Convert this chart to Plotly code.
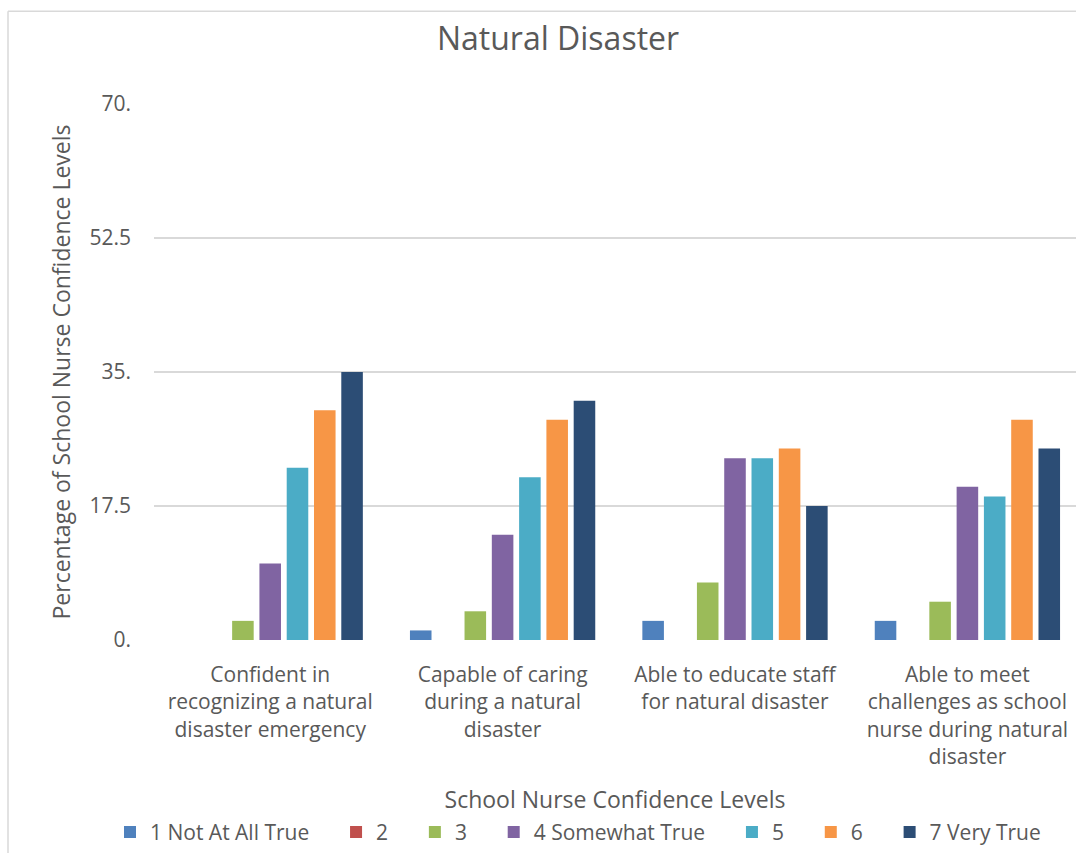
import plotly.graph_objects as go

# Survey items (x categories)
categories = [
    "Confident in<br>recognizing a natural<br>disaster emergency",
    "Capable of caring<br>during a natural<br>disaster",
    "Able to educate staff<br>for natural disaster",
    "Able to meet<br>challenges as school<br>nurse during natural<br>disaster",
]

# Percentage of respondents per confidence level
level_names = ["1 Not At All True", "2", "3", "4 Somewhat True", "5", "6", "7 Very True"]
level_1 = [0.0, 1.25, 2.5, 2.5]
level_2 = [0.0, 0.0, 0.0, 0.0]
level_3 = [2.5, 3.75, 7.5, 5.0]
level_4 = [10.0, 13.75, 23.75, 20.0]
level_5 = [22.5, 21.25, 23.75, 18.75]
level_6 = [30.0, 28.75, 25.0, 28.75]
level_7 = [35.0, 31.25, 17.5, 25.0]
level_values = [level_1, level_2, level_3, level_4, level_5, level_6, level_7]

level_colors = ["#4f81bd", "#c0504d", "#9bbb59", "#8064a2", "#4bacc6", "#f79646", "#2c4d75"]

y_tick_vals = [0, 17.5, 35, 52.5, 70]
y_tick_text = ["0.", "17.5", "35.", "52.5", "70."]

FONT = "Open Sans, Noto Sans, sans-serif"
TEXT = "#595959"
GRID = "#d9d9d9"

W, H = 1076, 853
ML, MT, MB = 154, 104, 211
plot_w = W - ML
plot_h = H - MT - MB
band_px = 232.4

# extra spacing after each legend entry (except the last)
PAD = "\u00a0" * 4

fig = go.Figure()
for i, (name, vals, col) in enumerate(zip(level_names, level_values, level_colors)):
    label = name + (PAD if i < len(level_names) - 1 else "")
    fig.add_trace(go.Bar(
        x=categories, y=vals, name=label,
        marker=dict(color=col, line=dict(width=0)),
    ))

fig.update_layout(
    width=W, height=H,
    margin=dict(l=ML, r=0, t=MT, b=MB, pad=0),
    paper_bgcolor="white", plot_bgcolor="white",
    barmode="group", bargap=0.178, bargroupgap=0.21,
    font=dict(family=FONT, color=TEXT, size=21),
    title=dict(
        text="Natural Disaster", x=558 / W, xanchor="center",
        y=1 - 39 / H, yanchor="middle",
        font=dict(family=FONT, size=32, color=TEXT),
    ),
    legend=dict(
        orientation="h", x=(110 - ML) / plot_w, xanchor="left",
        y=(H - MB - 835) / plot_h, yanchor="middle",
        font=dict(family=FONT, size=21, color=TEXT),
        itemclick=False,
    ),
    showlegend=True,
)

fig.update_xaxes(
    range=[-0.5, -0.5 + plot_w / band_px],
    showgrid=False, zeroline=False, showline=False, ticks="",
    tickfont=dict(family=FONT, size=21, color=TEXT),
    ticklabelstandoff=20,
    title=dict(text="School Nurse Confidence Levels",
               font=dict(family=FONT, size=23, color=TEXT), standoff=22),
)

fig.update_yaxes(
    range=[0, 70], tickvals=y_tick_vals, ticktext=y_tick_text,
    showgrid=True, gridcolor=GRID, gridwidth=1.5,
    zeroline=False, showline=False, ticks="",
    tickfont=dict(family=FONT, size=21, color=TEXT),
    ticklabelstandoff=22,
    title=dict(text="Percentage of School Nurse Confidence Levels",
               font=dict(family=FONT, size=23, color=TEXT), standoff=12),
)

# light chart-area frame along the left and top edges
fx = (8 - ML) / plot_w
fy = (H - MB - 11) / plot_h
fig.add_shape(type="line", xref="paper", yref="paper",
              x0=fx, x1=fx, y0=fy, y1=-1.0, line=dict(color=GRID, width=1.5))
fig.add_shape(type="line", xref="paper", yref="paper",
              x0=fx, x1=1.2, y0=fy, y1=fy, line=dict(color=GRID, width=1.5))

fig.write_html("out.html")
